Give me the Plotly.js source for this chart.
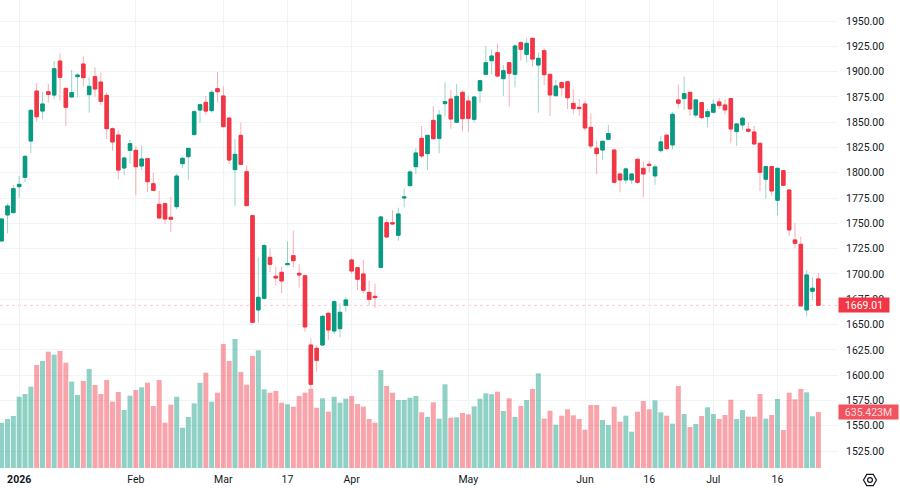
<!DOCTYPE html>
<html><head><meta charset="utf-8">
<script src="https://cdn.plot.ly/plotly-3.0.1.min.js"></script>
<style>html,body{margin:0;padding:0;background:#fff;}#chart{width:900px;height:490px;}</style>
</head><body><div id="chart"></div>
<script>
const dates = [
'2025-12-29','2025-12-30','2025-12-31',
'2026-01-02','2026-01-05','2026-01-06','2026-01-07','2026-01-08','2026-01-09','2026-01-12','2026-01-13','2026-01-14','2026-01-15','2026-01-16','2026-01-20','2026-01-21','2026-01-22','2026-01-23','2026-01-26','2026-01-27','2026-01-28','2026-01-29','2026-01-30',
'2026-02-02','2026-02-03','2026-02-04','2026-02-05','2026-02-06','2026-02-09','2026-02-10','2026-02-11','2026-02-12','2026-02-13','2026-02-17','2026-02-18','2026-02-19','2026-02-20','2026-02-23',
'2026-03-02','2026-03-03','2026-03-04','2026-03-05','2026-03-06','2026-03-09','2026-03-10','2026-03-11','2026-03-12','2026-03-13','2026-03-16','2026-03-17','2026-03-18','2026-03-19','2026-03-20','2026-03-23','2026-03-24','2026-03-25','2026-03-26','2026-03-27','2026-03-30','2026-03-31',
'2026-04-01','2026-04-02','2026-04-06','2026-04-07','2026-04-08','2026-04-09','2026-04-10','2026-04-13','2026-04-14','2026-04-15','2026-04-16','2026-04-17','2026-04-20','2026-04-21','2026-04-22','2026-04-23','2026-04-24','2026-04-27','2026-04-28','2026-04-29',
'2026-05-01','2026-05-04','2026-05-05','2026-05-06','2026-05-07','2026-05-08','2026-05-11','2026-05-12','2026-05-13','2026-05-14','2026-05-15','2026-05-18','2026-05-19','2026-05-20','2026-05-21','2026-05-22','2026-05-26','2026-05-27','2026-05-28','2026-05-29',
'2026-06-01','2026-06-02','2026-06-03','2026-06-04','2026-06-05','2026-06-08','2026-06-09','2026-06-10','2026-06-11','2026-06-12','2026-06-15','2026-06-16','2026-06-17','2026-06-18','2026-06-19','2026-06-22','2026-06-23','2026-06-24','2026-06-25','2026-06-26','2026-06-29','2026-06-30',
'2026-07-01','2026-07-02','2026-07-03','2026-07-06','2026-07-07','2026-07-08','2026-07-09','2026-07-10','2026-07-13','2026-07-14','2026-07-15','2026-07-16','2026-07-17','2026-07-20','2026-07-21','2026-07-22','2026-07-23','2026-07-24','2026-07-27'
];
const opens = [1732.6,1758.3,1760.6,1786.3,1795.5,1831.4,1880.8,1861.0,1880.1,1876.8,1910.4,1883.4,1874.9,1895.0,1907.5,1877.2,1895.0,1889.7,1876.5,1843.6,1837.3,1804.7,1822.2,1822.2,1806.7,1813.9,1789.2,1768.8,1769.5,1756.0,1766.5,1809.0,1815.9,1837.7,1862.0,1869.6,1861.4,1883.1,1875.9,1854.1,1803.1,1837.0,1801.1,1757.6,1664.4,1675.9,1716.4,1697.7,1701.6,1709.2,1718.1,1700.6,1698.3,1629.8,1626.5,1629.8,1661.1,1643.6,1645.9,1669.0,1713.8,1706.2,1700.0,1681.8,1677.9,1706.5,1750.7,1750.7,1738.2,1775.1,1787.3,1806.0,1834.0,1818.9,1851.8,1834.0,1868.3,1872.9,1849.9,1879.5,1870.9,1852.8,1881.1,1897.3,1910.8,1918.7,1893.0,1908.8,1897.3,1928.6,1917.1,1932.9,1906.5,1920.7,1897.3,1876.2,1889.1,1890.0,1868.6,1864.7,1868.0,1844.9,1824.2,1822.5,1833.1,1822.5,1798.8,1792.9,1792.9,1813.3,1804.4,1808.4,1796.9,1821.9,1837.1,1827.5,1872.0,1873.3,1879.5,1857.1,1869.3,1855.5,1859.8,1870.0,1867.0,1873.3,1840.7,1847.3,1843.0,1840.3,1829.1,1793.6,1806.1,1772.8,1802.1,1783.0,1733.6,1729.3,1664.4,1682.9,1695.1];
const highs = [1755.0,1769.8,1787.6,1796.8,1817.6,1862.5,1888.4,1880.1,1887.7,1910.4,1918.0,1884.0,1901.6,1898.3,1915.4,1894.3,1904.2,1898.9,1879.2,1844.9,1842.3,1815.9,1832.4,1826.5,1826.8,1814.5,1800.1,1782.0,1770.8,1776.4,1799.4,1815.9,1824.6,1862.0,1868.6,1875.9,1881.8,1899.6,1885.1,1854.6,1833.4,1849.5,1807.3,1758.0,1716.4,1729.6,1725.3,1707.2,1707.2,1732.2,1742.8,1709.5,1698.8,1636.4,1629.8,1659.4,1662.7,1674.3,1671.0,1677.6,1715.4,1707.2,1713.8,1693.4,1690.4,1757.3,1754.3,1762.9,1765.5,1784.6,1802.7,1824.2,1846.2,1837.5,1866.0,1862.0,1889.4,1881.8,1887.7,1881.1,1876.5,1875.9,1891.7,1925.3,1922.0,1927.3,1906.5,1909.8,1927.3,1930.6,1932.9,1933.4,1919.0,1923.0,1897.8,1891.7,1890.0,1890.5,1882.5,1872.9,1871.3,1858.7,1831.4,1831.6,1847.2,1823.2,1799.5,1805.4,1799.5,1814.3,1811.0,1812.0,1808.4,1836.4,1838.4,1859.8,1886.8,1895.0,1880.2,1873.0,1870.3,1863.4,1872.0,1873.9,1872.6,1873.8,1848.8,1855.5,1849.9,1846.3,1829.8,1806.8,1806.8,1805.1,1802.8,1783.5,1750.1,1736.9,1704.0,1696.7,1700.7];
const lows = [1731.9,1740.1,1759.9,1775.4,1790.9,1819.2,1850.5,1853.1,1869.3,1872.6,1871.2,1846.2,1874.5,1874.5,1885.1,1859.4,1875.2,1867.0,1833.4,1821.8,1793.5,1797.5,1809.3,1778.0,1802.7,1780.7,1782.0,1754.8,1749.7,1741.5,1763.9,1804.7,1792.9,1837.0,1849.5,1857.1,1859.4,1869.3,1844.9,1808.7,1767.2,1807.8,1767.0,1651.8,1651.9,1674.9,1701.6,1688.8,1680.9,1708.8,1706.2,1686.5,1642.6,1587.0,1603.4,1629.1,1634.7,1640.7,1637.4,1662.7,1700.6,1684.1,1680.9,1669.3,1666.0,1705.9,1736.0,1749.0,1732.9,1765.8,1786.3,1798.8,1814.3,1802.8,1832.4,1819.2,1855.5,1843.6,1848.9,1841.3,1840.6,1849.5,1869.3,1896.8,1897.3,1894.3,1875.9,1865.3,1884.4,1910.8,1909.1,1904.9,1859.4,1886.7,1856.1,1875.2,1876.2,1863.0,1857.8,1856.4,1841.6,1823.8,1798.5,1812.6,1832.4,1789.6,1780.7,1789.0,1789.0,1789.0,1775.8,1800.5,1788.0,1819.9,1822.6,1823.2,1863.7,1862.1,1856.2,1854.8,1852.9,1845.0,1858.8,1863.1,1857.8,1829.1,1826.5,1842.3,1840.0,1827.5,1782.0,1774.8,1777.4,1758.0,1787.0,1737.6,1725.4,1668.0,1658.5,1674.3,1668.6];
const closes = [1754.3,1767.2,1784.3,1788.6,1816.2,1861.7,1855.4,1868.0,1877.5,1902.9,1894.3,1864.7,1879.2,1896.6,1894.0,1885.4,1882.8,1870.6,1843.6,1830.4,1802.7,1814.6,1828.8,1806.0,1813.6,1791.2,1782.6,1755.3,1754.3,1754.0,1796.8,1814.3,1824.1,1860.4,1867.3,1861.0,1879.5,1880.1,1845.6,1812.6,1818.2,1808.3,1767.5,1652.2,1676.9,1728.0,1709.5,1696.0,1693.0,1710.2,1713.1,1699.0,1647.6,1590.9,1614.6,1658.1,1644.6,1672.6,1662.1,1674.3,1702.9,1694.7,1683.8,1674.9,1676.6,1756.3,1736.5,1749.4,1759.3,1776.1,1800.8,1819.6,1816.6,1837.0,1833.7,1857.1,1870.3,1853.1,1875.5,1853.5,1853.8,1874.9,1891.0,1908.8,1915.4,1895.6,1900.9,1898.3,1925.3,1922.0,1927.9,1912.4,1913.1,1897.0,1876.9,1885.8,1884.1,1874.2,1863.4,1863.4,1844.3,1826.5,1818.9,1831.1,1838.7,1790.6,1792.9,1803.8,1798.8,1790.6,1798.8,1807.4,1805.8,1830.5,1823.9,1857.8,1868.7,1878.2,1863.1,1872.0,1854.5,1860.4,1867.7,1866.4,1862.1,1843.3,1848.3,1853.9,1841.0,1828.5,1800.5,1806.1,1782.0,1804.4,1787.6,1743.5,1730.3,1668.4,1699.0,1685.9,1669.01];
const volumesM = [514,556,590,809,840,923,1169,1215,1320,1286,1328,1195,980,829,988,1124,942,840,999,753,863,658,821,885,916,968,704,999,514,719,809,457,579,734,968,1082,753,855,1407,1215,1464,1090,946,1271,1336,893,855,874,741,723,696,817,855,900,684,791,639,809,741,787,817,726,696,556,514,1112,931,855,772,772,798,817,632,579,746,560,950,571,575,624,609,700,787,848,837,866,647,791,579,704,772,897,1075,560,650,492,594,666,598,556,435,715,715,545,488,696,526,594,412,639,760,666,768,632,594,503,931,613,465,499,590,689,613,556,602,775,556,658,583,583,840,560,602,783,431,855,780,897,859,587,635.423];
const tickDates = ['2026-01-02','2026-02-02','2026-03-02','2026-03-17','2026-04-01','2026-05-01','2026-06-01','2026-06-16','2026-07-01','2026-07-16'];
const tickLabels = ['<b>2026</b>','Feb','Mar','17','Apr','May','Jun','16','Jul','16'];

const UP = '#089981', DOWN = '#f23645';
const UP_W = 'rgba(8,153,129,0.4)', DOWN_W = 'rgba(242,54,69,0.4)';
const UP_V = 'rgba(8,153,129,0.45)', DOWN_V = 'rgba(242,54,69,0.45)';

const bodyHigh = opens.map((o,i)=>Math.max(o,closes[i]));
const bodyLow = opens.map((o,i)=>Math.min(o,closes[i]));
const volColors = closes.map((c,i)=> c >= opens[i] ? UP_V : DOWN_V);
const lastClose = closes[closes.length-1];
const lastVol = volumesM[volumesM.length-1];

const traces = [
 {type:'bar', x:dates, y:volumesM, yaxis:'y', marker:{color:volColors, line:{width:0}}, hoverinfo:'skip'},
 {type:'candlestick', x:dates, open:opens, high:highs, low:lows, close:closes, yaxis:'y2',
  increasing:{line:{color:UP_W,width:1}, fillcolor:UP_W},
  decreasing:{line:{color:DOWN_W,width:1}, fillcolor:DOWN_W}, whiskerwidth:0, hoverinfo:'skip'},
 {type:'candlestick', x:dates, open:opens, high:bodyHigh, low:bodyLow, close:closes, yaxis:'y2',
  increasing:{line:{color:UP,width:1}, fillcolor:UP},
  decreasing:{line:{color:DOWN,width:1}, fillcolor:DOWN}, whiskerwidth:0, hoverinfo:'skip'}
];

const GRID = '#f2f3f5';
const layout = {
 width:900, height:490,
 margin:{l:0, r:62, t:0, b:22},
 paper_bgcolor:'#ffffff', plot_bgcolor:'#ffffff',
 showlegend:false, hovermode:false,
 bargap:0.14, boxgap:0.4, boxgroupgap:0, boxmode:'overlay',
 font:{family:'Roboto, sans-serif', size:10.5, color:'#131722'},
 xaxis:{type:'category', range:[-0.286,143.37], tickmode:'array', tickvals:tickDates, ticktext:tickLabels,
   showgrid:true, gridcolor:GRID, gridwidth:1, ticks:'', showline:false, zeroline:false,
   rangeslider:{visible:false}, ticklabelstandoff:3, fixedrange:true},
 yaxis:{range:[0,5312], visible:false, showgrid:false, zeroline:false, fixedrange:true},
 yaxis2:{overlaying:'y', side:'right', anchor:'x', range:[1508.2,1970.76], tickmode:'linear', tick0:1500, dtick:25,
   tickformat:'.2f', showgrid:true, gridcolor:GRID, gridwidth:1, zeroline:false, ticks:'', showline:false,
   ticklabelstandoff:7, fixedrange:true},
 shapes:[
  {type:'line', xref:'paper', x0:0, x1:1, yref:'y2', y0:lastClose, y1:lastClose, layer:'below',
   line:{color:'rgba(242,54,69,0.28)', width:1, dash:'dot'}},
  {type:'path', xref:'paper', yref:'paper', xsizemode:'pixel', ysizemode:'pixel', xanchor:1, yanchor:0,
   path:'M25.5,-12 L28.75,-6.4 L35.25,-6.4 L38.5,-12 L35.25,-17.6 L28.75,-17.6 Z', line:{color:'#131722', width:1.2}},
  {type:'circle', xref:'paper', yref:'paper', xsizemode:'pixel', ysizemode:'pixel', xanchor:1, yanchor:0,
   x0:29.6, x1:34.4, y0:-14.4, y1:-9.6, line:{color:'#131722', width:1.2}}
 ],
 annotations:[
  {xref:'paper', x:1, xanchor:'left', yref:'y2', y:lastClose, yanchor:'middle', text:lastClose.toFixed(2), showarrow:false,
   bgcolor:DOWN, font:{color:'#ffffff', size:10.5}, width:48, height:12, borderpad:1},
  {xref:'paper', x:1, xanchor:'left', yref:'y', y:lastVol, yanchor:'middle', text:lastVol.toFixed(3)+'M', showarrow:false,
   bgcolor:'#f0535d', font:{color:'rgba(255,255,255,0.8)', size:10.5}, width:57, height:12, borderpad:1}
 ]
};
Plotly.newPlot('chart', traces, layout, {displayModeBar:false, staticPlot:true});
</script></body></html>
